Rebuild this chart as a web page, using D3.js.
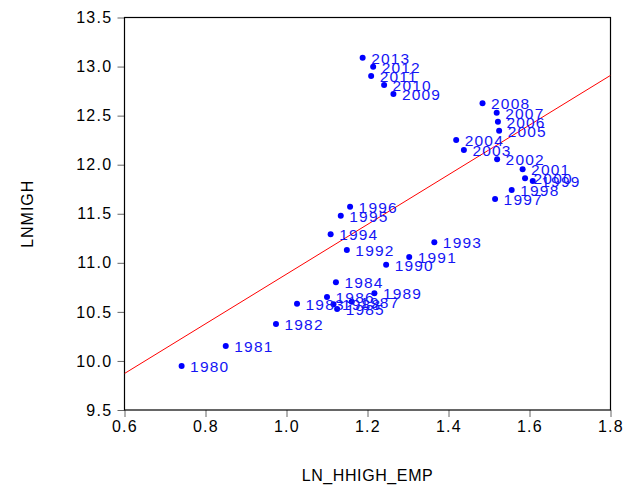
<!DOCTYPE html>
<html>
<head>
<meta charset="utf-8">
<script src="https://cdn.jsdelivr.net/npm/d3@7"></script>
<style>
  html, body { margin: 0; padding: 0; background: #fff; }
  svg { display: block; font-family: "Liberation Sans", Arial, sans-serif; }
</style>
</head>
<body>
<svg id="chart" width="625" height="488"></svg>
<script>
// Observations: one per year, 1980-2013
const years = [1980, 1981, 1982, 1983, 1984, 1985, 1986, 1987, 1988, 1989,
               1990, 1991, 1992, 1993, 1994, 1995, 1996, 1997, 1998, 1999,
               2000, 2001, 2002, 2003, 2004, 2005, 2006, 2007, 2008, 2009,
               2010, 2011, 2012, 2013];
const lnHhighEmp = [0.741, 0.850, 0.974, 1.026, 1.122, 1.125, 1.100, 1.161, 1.116, 1.217,
                    1.246, 1.303, 1.149, 1.365, 1.109, 1.134, 1.157, 1.515, 1.556, 1.608,
                    1.589, 1.583, 1.520, 1.438, 1.419, 1.525, 1.522, 1.519, 1.484, 1.264,
                    1.241, 1.209, 1.214, 1.188];
const lnMigh = [9.948, 10.152, 10.376, 10.583, 10.801, 10.529, 10.652, 10.604, 10.577, 10.689,
                10.981, 11.059, 11.131, 11.209, 11.290, 11.480, 11.572, 11.650, 11.742, 11.834,
                11.861, 11.953, 12.055, 12.150, 12.252, 12.346, 12.438, 12.530, 12.626, 12.720,
                12.812, 12.904, 12.999, 13.090];
const xTicks = [0.6, 0.8, 1.0, 1.2, 1.4, 1.6, 1.8];
const yTicks = [9.5, 10.0, 10.5, 11.0, 11.5, 12.0, 12.5, 13.0, 13.5];

const points = years.map((yr, i) => ({ year: yr, x: lnHhighEmp[i], y: lnMigh[i] }));

// Least-squares fit of LNMIGH on LN_HHIGH_EMP
const mx = d3.mean(lnHhighEmp), my = d3.mean(lnMigh);
const sxy = d3.sum(points, p => (p.x - mx) * (p.y - my));
const sxx = d3.sum(points, p => (p.x - mx) ** 2);
const slope = sxy / sxx;
const intercept = my - slope * mx;

const plot = { left: 124.5, right: 610.5, top: 17.5, bottom: 410 };
const svg = d3.select("#chart");

const x = d3.scaleLinear().domain([0.6, 1.8]).range([plot.left, plot.right]);
const y = d3.scaleLinear().domain([9.5, 13.5]).range([plot.bottom, plot.top]);

svg.append("defs").append("clipPath").attr("id", "plotclip")
  .append("rect")
  .attr("x", plot.left).attr("y", plot.top)
  .attr("width", plot.right - plot.left).attr("height", plot.bottom - plot.top);

// Axes
const xAxis = svg.append("g")
  .attr("transform", `translate(0,${plot.bottom})`)
  .call(d3.axisBottom(x).tickValues(xTicks).tickFormat(d3.format(".1f")).tickSize(7).tickPadding(4));
const yAxis = svg.append("g")
  .attr("transform", `translate(${plot.left},0)`)
  .call(d3.axisLeft(y).tickValues(yTicks).tickFormat(d3.format(".1f")).tickSize(7).tickPadding(6));

[xAxis, yAxis].forEach(g => {
  g.select(".domain").remove();
  g.selectAll(".tick line").attr("stroke", "#666").attr("stroke-width", 1);
  g.selectAll(".tick text")
    .attr("fill", "#000")
    .style("font-size", "16px")
    .style("letter-spacing", "1.3px")
    .style("font-family", "'Liberation Sans', Arial, sans-serif");
});
yAxis.selectAll(".tick text").attr("x", -12);

// Frame
svg.append("rect")
  .attr("x", plot.left).attr("y", plot.top)
  .attr("width", plot.right - plot.left).attr("height", plot.bottom - plot.top)
  .attr("fill", "none").attr("stroke", "#000").attr("stroke-width", 1.2);

// Fitted line
svg.append("line")
  .attr("clip-path", "url(#plotclip)")
  .attr("x1", x(0.6)).attr("y1", y(intercept + slope * 0.6))
  .attr("x2", x(1.8)).attr("y2", y(intercept + slope * 1.8))
  .attr("stroke", "#ff0000").attr("stroke-width", 1);

// Points and year labels
const pts = svg.append("g");
pts.selectAll("circle").data(points).join("circle")
  .attr("cx", d => x(d.x)).attr("cy", d => y(d.y)).attr("r", 3)
  .attr("fill", "#0000ff");
pts.selectAll("text").data(points).join("text")
  .attr("x", d => x(d.x) + 8.5).attr("y", d => y(d.y) + 6)
  .attr("fill", "#1414f5")
  .style("font-size", "15.5px")
  .style("letter-spacing", "1.2px")
  .text(d => d.year);

// Axis titles
svg.append("text")
  .attr("x", (plot.left + plot.right) / 2).attr("y", 481)
  .attr("text-anchor", "middle")
  .style("font-size", "16px").style("letter-spacing", "0.6px")
  .text("LN_HHIGH_EMP");
svg.append("text")
  .attr("transform", `translate(33,${(plot.top + plot.bottom) / 2}) rotate(-90)`)
  .attr("text-anchor", "middle")
  .style("font-size", "16px").style("letter-spacing", "1px")
  .text("LNMIGH");
</script>
</body>
</html>
